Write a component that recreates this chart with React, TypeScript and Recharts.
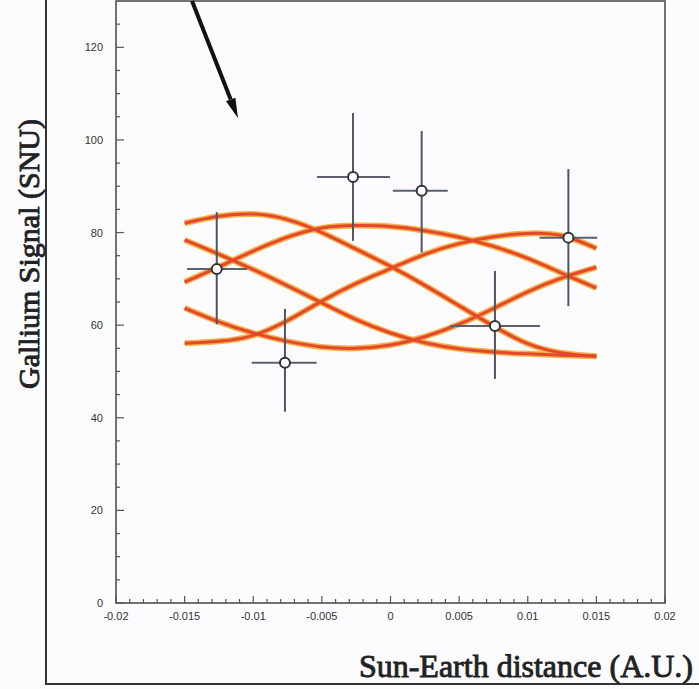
import { ComposedChart, Line, Scatter, ErrorBar, XAxis, YAxis, ReferenceArea, ReferenceLine } from 'recharts';

// distance samples (A.U.) for the predicted curves
const distance = [-0.015, -0.0125, -0.01, -0.0075, -0.005, -0.0025, 0, 0.0025, 0.005, 0.0075, 0.01, 0.0125, 0.015];

// predicted gallium signal curves (SNU)
const curveA = [82, 83.5, 84, 82.8, 80, 76.4, 72.7, 68.6, 64.2, 59.8, 56, 54, 53.3];
const curveB = [78.4, 75.3, 72, 68.5, 64.8, 61.2, 58.3, 56.2, 54.9, 54.2, 53.8, 53.5, 53.3];
const curveC = [56.1, 56.5, 57.8, 61, 65.2, 69, 72.2, 75.3, 77.6, 79.1, 79.8, 79.3, 76.6];
const curveD = [69.3, 72.6, 76, 79, 81, 81.5, 81.3, 80.4, 79, 77, 74.4, 71.2, 68];
const curveE = [63.7, 60.7, 58.3, 56.5, 55.3, 55, 55.7, 57.5, 60.2, 63.6, 67.2, 70.2, 72.5];

// measured points with errors
const pointX = [-0.01266, -0.00769, -0.00273, 0.00227, 0.00761, 0.01296];
const pointY = [72.1, 51.9, 92, 89, 59.8, 78.9];
const pointXErr = [[0.00217, 0.0022], [0.00242, 0.00231], [0.00262, 0.00269], [0.0021, 0.0019], [0.00327, 0.00328], [0.0021, 0.0021]];
const pointYErr = [[11.9, 12.3], [10.6, 11.6], [13.8, 13.8], [13.3, 12.9], [11.4, 11.9], [14.8, 14.8]];

// arrow annotation (data coords)
const arrowFrom = { x: -0.01446, y: 130 };
const arrowTo = { x: -0.01111, y: 104.7 };

const xMajor = [-0.02, -0.015, -0.01, -0.005, 0, 0.005, 0.01, 0.015, 0.02];
const xLabels = ['-0.02', '-0.015', '-0.01', '-0.005', '0', '0.005', '0.01', '0.015', '0.02'];
const yMajor = [0, 20, 40, 60, 80, 100, 120];
const yLabels = ['0', '20', '40', '60', '80', '100', '120'];

const X_MINOR = 0.001;
const Y_MINOR = 5;

const curveRows = distance.map((x, i) => ({
  x,
  a: curveA[i],
  b: curveB[i],
  c: curveC[i],
  d: curveD[i],
  e: curveE[i],
}));

const points = pointX.map((x, i) => ({ x, y: pointY[i], ex: pointXErr[i], ey: pointYErr[i] }));

const xTicks: number[] = [];
for (let i = -20; i <= 20; i++) xTicks.push(+(i * X_MINOR).toFixed(4));
const yTicks: number[] = [];
for (let v = 0; v <= 125; v += Y_MINOR) yTicks.push(v);

const majorIndex = (list: number[], v: number) => list.findIndex((m) => Math.abs(m - v) < 1e-7);

const tickFont = 'Arial, "Liberation Sans", sans-serif';

function XTick(props: any) {
  const { x, y, payload } = props;
  const idx = majorIndex(xMajor, payload.value);
  const len = idx >= 0 ? 7 : 4;
  return (
    <g>
      <line x1={x} y1={y} x2={x} y2={y - len} stroke="#555" strokeWidth={1.2} />
      {idx >= 0 && (
        <text x={x} y={y + 17} textAnchor="middle" fontSize={11} fill="#333" fontFamily={tickFont}>
          {xLabels[idx]}
        </text>
      )}
    </g>
  );
}

function YTick(props: any) {
  const { x, y, payload } = props;
  const idx = majorIndex(yMajor, payload.value);
  const len = idx >= 0 ? 8 : 4;
  return (
    <g>
      <line x1={x} y1={y} x2={x + len} y2={y} stroke="#555" strokeWidth={1.2} />
      {idx >= 0 && (
        <text x={x - 13} y={y + 4} textAnchor="end" fontSize={11} fill="#333" fontFamily={tickFont}>
          {yLabels[idx]}
        </text>
      )}
    </g>
  );
}

function Arrow(props: any) {
  const { x1, y1, x2, y2 } = props;
  const ang = Math.atan2(y2 - y1, x2 - x1);
  const headLen = 20;
  const headW = 5;
  const bx = x2 - headLen * Math.cos(ang);
  const by = y2 - headLen * Math.sin(ang);
  const nx = -Math.sin(ang) * headW;
  const ny = Math.cos(ang) * headW;
  return (
    <g>
      <line x1={x1} y1={y1} x2={bx} y2={by} stroke="#111" strokeWidth={4} />
      <polygon points={`${x2},${y2} ${bx + nx},${by + ny} ${bx - nx},${by - ny}`} fill="#111" />
    </g>
  );
}

function Marker(props: any) {
  const { cx, cy } = props;
  return <circle cx={cx} cy={cy} r={5} fill="#fff" stroke="#333" strokeWidth={2} />;
}

const curveKeys = ['a', 'b', 'c', 'd', 'e'];

export default function App() {
  return (
    <div style={{ position: 'absolute', left: 0, top: 0, width: 699, height: 689, background: '#fcfcfe', overflow: 'hidden' }}>
      <div
        style={{
          position: 'absolute',
          left: 45,
          top: -2,
          width: 660,
          height: 685,
          borderLeft: '2.5px solid #333',
          borderBottom: '2.5px solid #333',
        }}
      />
      <div style={{ position: 'absolute', left: 0, top: 0 }}>
        <ComposedChart width={699} height={689} data={curveRows} margin={{ top: 1, right: 34, left: 0, bottom: 0 }}>
          <XAxis
            dataKey="x"
            type="number"
            domain={[-0.02, 0.02]}
            ticks={xTicks}
            interval={0}
            tick={<XTick />}
            tickSize={0}
            tickMargin={0}
            axisLine={false}
            height={86}
          />
          <YAxis
            type="number"
            domain={[0, 130]}
            ticks={yTicks}
            interval={0}
            tick={<YTick />}
            tickSize={0}
            tickMargin={0}
            axisLine={false}
            width={116}
          />
          <ReferenceArea x1={-0.02} x2={0.02} y1={0} y2={130} fill="none" stroke="#444" strokeWidth={1.5} />
          {curveKeys.map((k) => (
            <Line
              key={'halo-' + k}
              dataKey={k}
              type="natural"
              stroke="#f4b04c"
              strokeWidth={6}
              dot={false}
              activeDot={false}
              isAnimationActive={false}
            />
          ))}
          {curveKeys.map((k) => (
            <Line
              key={'core-' + k}
              dataKey={k}
              type="natural"
              stroke="#e4482a"
              strokeWidth={3}
              dot={false}
              activeDot={false}
              isAnimationActive={false}
            />
          ))}
          <Scatter data={points} dataKey="y" shape={<Marker />} isAnimationActive={false}>
            <ErrorBar dataKey="ey" direction="y" width={0} stroke="#4e5566" strokeWidth={2} />
            <ErrorBar dataKey="ex" direction="x" width={0} stroke="#5a6070" strokeWidth={2} />
          </Scatter>
          <ReferenceLine segment={[arrowFrom, arrowTo]} shape={<Arrow />} ifOverflow="visible" />
        </ComposedChart>
      </div>
      <div
        style={{
          position: 'absolute',
          left: 29,
          top: 254,
          transform: 'translate(-50%, -50%) rotate(-90deg)',
          whiteSpace: 'nowrap',
          fontFamily: '"Liberation Serif", "Times New Roman", serif',
          fontSize: 30,
          color: '#222',
          WebkitTextStroke: '0.9px #222',
          lineHeight: 1,
        }}
      >
        Gallium Signal (SNU)
      </div>
      <div
        style={{
          position: 'absolute',
          right: 6,
          top: 650,
          whiteSpace: 'nowrap',
          fontFamily: '"Liberation Serif", "Times New Roman", serif',
          fontSize: 32,
          color: '#222',
          WebkitTextStroke: '0.9px #222',
          lineHeight: 1,
        }}
      >
        Sun-Earth distance (A.U.)
      </div>
    </div>
  );
}
